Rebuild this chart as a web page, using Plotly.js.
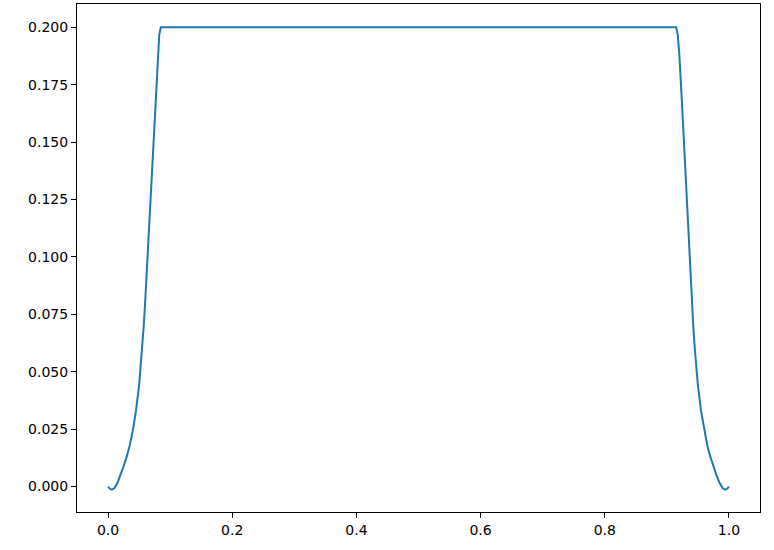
<!DOCTYPE html>
<html>
<head>
<meta charset="utf-8">
<script src="https://cdn.plot.ly/plotly-3.0.1.min.js"></script>
<style>html,body{margin:0;padding:0;background:#fff;}#chart{width:774px;height:550px;}</style>
</head>
<body>
<div id="chart"></div>
<script>
const xValues = [
  0.000, 0.003, 0.006, 0.010, 0.015, 0.020, 0.025, 0.030, 0.035, 0.040,
  0.045, 0.050, 0.0525, 0.055, 0.0575, 0.060, 0.065, 0.070, 0.075, 0.080, 0.0825, 0.085,
  0.915, 0.9175, 0.920, 0.925, 0.930, 0.935, 0.940, 0.9425, 0.945, 0.9475, 0.950, 0.955,
  0.960, 0.965, 0.970, 0.975, 0.980, 0.985, 0.990, 0.994, 0.997, 1.000
];
const yValues = [
  0.0000, -0.0010, -0.0014, -0.0008, 0.0015, 0.0048, 0.0088, 0.0130, 0.0180, 0.0245,
  0.0330, 0.0440, 0.0515, 0.0600, 0.0700, 0.0815, 0.1075, 0.1355, 0.1635, 0.1885, 0.1968, 0.2000,
  0.2000, 0.1968, 0.1885, 0.1635, 0.1355, 0.1075, 0.0815, 0.0700, 0.0600, 0.0515, 0.0440, 0.0330,
  0.0245, 0.0180, 0.0130, 0.0088, 0.0048, 0.0015, -0.0008, -0.0014, -0.0010, 0.0000
];
const xTicks = [0.0, 0.2, 0.4, 0.6, 0.8, 1.0];
const yTicks = [0.000, 0.025, 0.050, 0.075, 0.100, 0.125, 0.150, 0.175, 0.200];

const trace = {
  x: xValues, y: yValues, type: 'scatter', mode: 'lines',
  line: {color: '#1f77b4', width: 2, shape: 'linear'},
  hoverinfo: 'skip'
};

const axisCommon = {
  showgrid: false, zeroline: false, showline: true, mirror: true,
  linecolor: '#000', linewidth: 1, ticks: 'outside', ticklen: 5,
  tickwidth: 1, tickcolor: '#000',
  tickfont: {family: 'DejaVu Sans', size: 14, color: '#000'}
};

const layout = {
  width: 774, height: 550,
  margin: {l: 77, r: 14, t: 4, b: 38, pad: 0},
  paper_bgcolor: '#fff', plot_bgcolor: '#fff',
  showlegend: false,
  xaxis: Object.assign({}, axisCommon, {
    range: [-0.05, 1.05], tickmode: 'array', tickvals: xTicks,
    ticktext: xTicks.map(v => v.toFixed(1))
  }),
  yaxis: Object.assign({}, axisCommon, {
    range: [-0.0111, 0.2101], tickmode: 'array', tickvals: yTicks,
    ticktext: yTicks.map(v => v.toFixed(3))
  })
};

Plotly.newPlot('chart', [trace], layout, {displayModeBar: false, staticPlot: true});
</script>
</body>
</html>
